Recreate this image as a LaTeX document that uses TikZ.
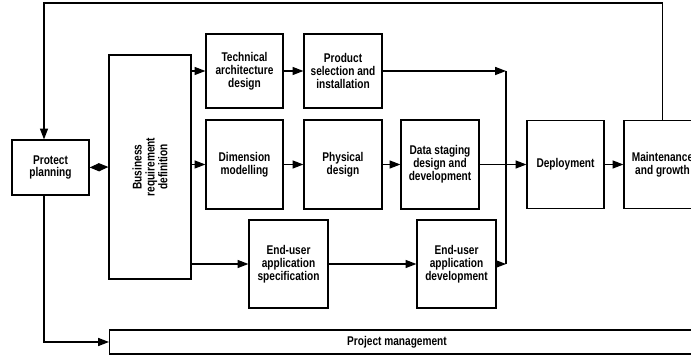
\documentclass[tikz,border=0pt]{standalone}
\usepackage{fontspec}
\setmainfont{Liberation Sans}[FakeStretch=0.8]
\usetikzlibrary{arrows.meta}

\tikzset{
  blk/.style={draw, line width=0.85pt, align=center, inner sep=1pt,
    minimum width=1.925cm},
  flow/.style={line width=0.8pt, -{Triangle[length=0.27cm,width=0.2cm]}},
}

\begin{document}
\begin{tikzpicture}[font=\bfseries\fontsize{9}{9.1}\selectfont]
  \useasboundingbox (0,0) rectangle (17.275,8.9);

  % Planning and requirements
  \node[blk, minimum height=1.375cm] (plan) at (1.2625,4.7125) {Protect\\planning};
  \node[blk, minimum width=2.05cm, minimum height=5.6cm] (busreq) at (3.75,4.725) {};
  \node[rotate=90, align=center] (busreqtxt) at (busreq) {Business\\requirement\\definition};

  % Technical track
  \node[blk, minimum height=1.85cm] (tech) at (6.1125,7.125) {Technical\\architecture\\design};
  \node[blk, minimum width=1.95cm, minimum height=1.85cm] (prod) at (8.575,7.125) {Product\\selection and\\installation};

  % Data track
  \node[blk, minimum height=2.225cm] (dim) at (6.1125,4.7875) {Dimension\\modelling};
  \node[blk, minimum width=1.95cm, minimum height=2.225cm] (phys) at (8.575,4.7875) {Physical\\design};
  \node[blk, minimum width=1.95cm, minimum height=2.225cm] (stage) at (11.0,4.7875) {Data staging\\design and\\development};
  \node[blk, minimum height=2.2cm] (deploy) at (14.1375,4.7875) {Deployment};
  \node[blk, minimum height=2.2cm] (maint) at (16.5625,4.7875) {Maintenance\\and growth};

  % Application track
  \node[blk, minimum width=1.975cm, minimum height=2.2cm] (spec) at (7.2125,2.3) {End-user\\application\\specification};
  \node[blk, minimum width=1.975cm, minimum height=2.2cm] (appdev) at (11.4125,2.3) {End-user\\application\\development};

  % Management bar
  \node[blk, anchor=west, minimum width=15cm, minimum height=0.6cm] (pm) at (2.725,0.35) {};
  \node (pmtxt) at (9.925,0.35) {Project management};

  % Helper coordinates
  \coordinate (bus) at (12.65,0);
  \coordinate (ppx) at (1.1,0);
  \coordinate (top) at (0,8.825);

  % Connections
  \draw[line width=0.8pt, {Triangle[length=0.24cm,width=0.2cm]}-{Triangle[length=0.24cm,width=0.2cm]}] (plan.east) -- (busreq.west);
  \draw[flow] (busreq.east |- tech.west) -- (tech.west);
  \draw[flow] (tech) -- (prod);
  \draw[flow] (busreq.east |- dim.west) -- (dim.west);
  \draw[flow] (dim) -- (phys);
  \draw[flow] (phys) -- (stage);
  \draw[flow] (stage) -- (deploy);
  \draw[flow] (deploy) -- (maint);
  \draw[flow] (busreq.east |- spec.west) -- (spec.west);
  \draw[flow] (spec) -- (appdev);

  % Merge into deployment
  \draw[flow] (prod.east) -- (bus |- prod.east);
  \draw[flow] (appdev.east) -- (bus |- appdev.east);
  \draw[line width=0.8pt] (bus |- prod.east) -- (bus |- appdev.east);

  % Feedback and management
  \draw[flow] (maint.north) |- (ppx |- top) -- (ppx |- plan.north);
  \draw[flow] (ppx |- plan.south) |- (pm.west);
\end{tikzpicture}
\end{document}
